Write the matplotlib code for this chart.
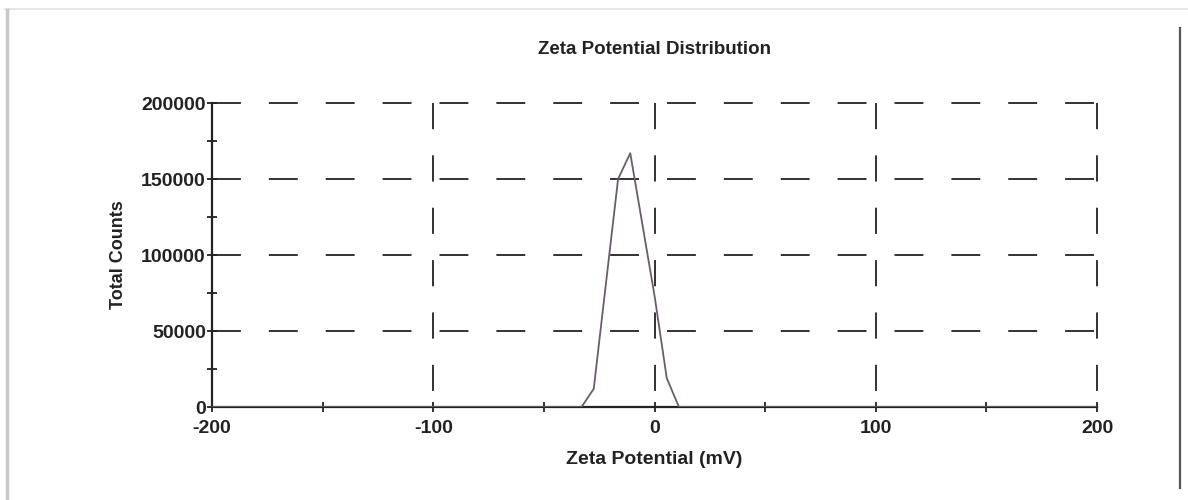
import matplotlib
matplotlib.use('Agg')
import matplotlib.pyplot as plt
from matplotlib.lines import Line2D
from matplotlib.ticker import MultipleLocator

plt.rcParams['font.family'] = ['Liberation Sans', 'DejaVu Sans']
plt.rcParams['axes.unicode_minus'] = False

# Zeta potential distribution data
zeta_mv = [-200, -33, -27.5, -22, -16.5, -11, -5.5, 0, 5.5, 11, 200]
total_counts = [0, 0, 12000, 81000, 150000, 167000, 120000, 73000, 19000, 0, 0]

x_ticks = [-200, -100, 0, 100, 200]
y_ticks = [0, 50000, 100000, 150000, 200000]

fig = plt.figure(figsize=(11.88, 5.0), dpi=100)
ax = fig.add_axes([0.1785, 0.186, 0.745, 0.608])

ax.plot(zeta_mv, total_counts, color='#6b5c6b', lw=1.3, zorder=3)

ax.set_xlim(-200, 200)
ax.set_ylim(0, 200000)
ax.set_xticks(x_ticks)
ax.set_yticks(y_ticks)
ax.xaxis.set_minor_locator(MultipleLocator(50))
ax.yaxis.set_minor_locator(MultipleLocator(25000))
ax.tick_params(which='both', direction='inout', length=7, width=1.3, color='#222222',
               labelsize=14, pad=1)
ax.tick_params(axis='x', which='major', pad=6)
for lbl in ax.get_xticklabels() + ax.get_yticklabels():
    lbl.set_fontweight('bold')
    lbl.set_color('#222222')

# dashed grid incl. top/right edges, dashes starting at top / left
for x in x_ticks[1:]:
    ax.plot([x, x], [200000, 0], color='#222222', lw=1.3, dashes=(14.5, 14.5),
            zorder=1, clip_on=False)
for y in y_ticks[1:]:
    ax.plot([-200, 200], [y, y], color='#222222', lw=1.3, dashes=(16, 15.5),
            zorder=1, clip_on=False)

for side in ['top', 'right']:
    ax.spines[side].set_visible(False)
for side in ['left', 'bottom']:
    ax.spines[side].set_linewidth(1.6)
    ax.spines[side].set_color('#222222')

ax.set_title('Zeta Potential Distribution', fontsize=13.5, fontweight='bold',
             color='#222222', pad=35)
ax.set_xlabel('Zeta Potential (mV)', fontsize=14, fontweight='bold', color='#222222', labelpad=10)
ax.set_ylabel('Total Counts', fontsize=13, fontweight='bold', color='#222222', labelpad=10)

# page frame around the figure
fig.add_artist(Line2D([0.004, 1.0], [0.982, 0.982], transform=fig.transFigure,
                      color='#e6e6e6', lw=1.5))
fig.add_artist(Line2D([0.0055, 0.0055], [0.0, 0.98], transform=fig.transFigure,
                      color='#c8c8c8', lw=2.5))
fig.add_artist(Line2D([0.993, 0.993], [0.024, 0.944], transform=fig.transFigure,
                      color='#555555', lw=1.6))

fig.savefig('out.png', dpi=100)
